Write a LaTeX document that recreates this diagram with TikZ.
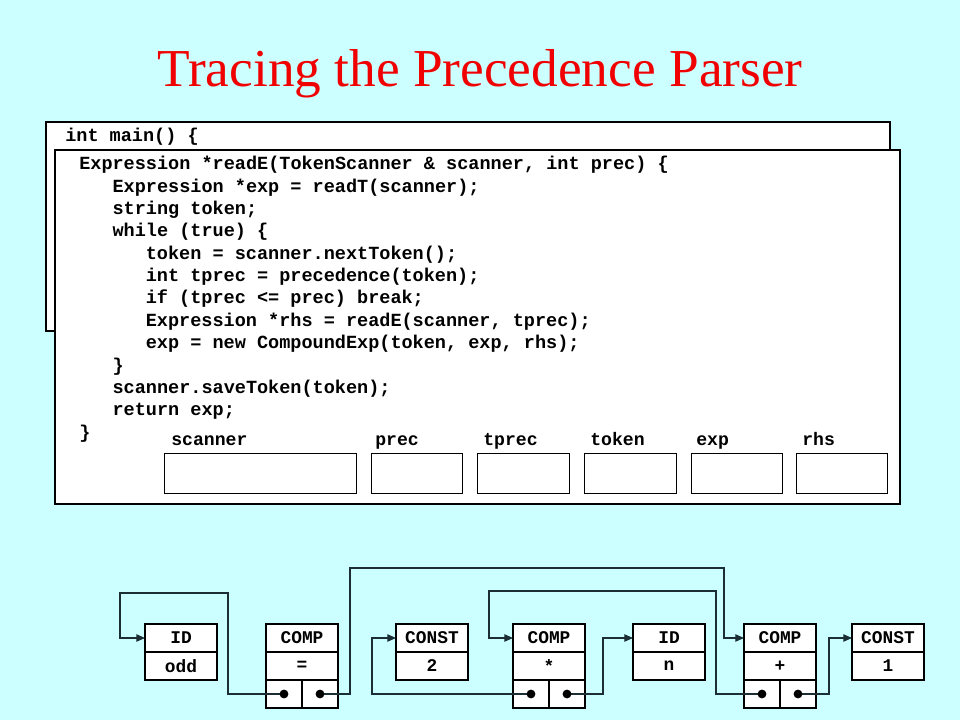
\documentclass[tikz,border=0pt]{standalone}
\usepackage{fontspec}
\setmainfont{Liberation Serif}
\setmonofont{Liberation Mono}
\usetikzlibrary{arrows.meta, positioning}
\definecolor{SlideBg}{HTML}{CCFFFF}
\definecolor{TitleRed}{HTML}{F00000}
\definecolor{LinkDark}{HTML}{1A2E33}

\begin{document}
\begin{tikzpicture}[x=0.75pt, y=-0.75pt,
    frame/.style={draw, fill=white, line width=1.6pt},
    code/.style={anchor=base west, inner sep=0pt, font=\ttfamily\bfseries\fontsize{13.9}{16}\selectfont},
    varname/.style={anchor=base west, inner sep=0pt, font=\ttfamily\bfseries\fontsize{13.6}{16}\selectfont},
    varbox/.style={draw, line width=0.8pt, fill=white, anchor=north west, minimum height=30pt, inner sep=0pt},
    field/.style={draw, line width=0.9pt, fill=white, minimum width=54pt, minimum height=21pt, inner sep=0pt, outer sep=0pt, font=\ttfamily\bfseries\fontsize{13.4}{16}\selectfont},
    cell/.style={draw, line width=0.9pt, fill=white, minimum width=27pt, minimum height=21pt, inner sep=0pt, outer sep=0pt},
    dot/.style={fill=black, circle, inner sep=0pt, minimum size=6.6pt},
    link/.style={LinkDark, line width=0.9pt, -{Triangle[length=6.5pt, width=5.5pt]}}]

    % Background
    \fill[SlideBg] (0,0) rectangle (960,720);
    \node[TitleRed, anchor=base, font=\fontsize{40}{46}\selectfont] (title) at (480,87) {Tracing the Precedence Parser};

    % Frames
    \draw[frame] (46,122) rectangle (890,331);
    \node[code] (main) at (65,142) {int main() \{};
    \draw[frame] (55,150) rectangle (900,504);

    % Code of readE
    \node[code] (l1) at (79,170) {Expression *readE(TokenScanner \& scanner, int prec) \{};
    \node[code] (l2) at (112.3,192.3) {Expression *exp = readT(scanner);};
    \node[code] (l3) at (112.3,214.7) {string token;};
    \node[code] (l4) at (112.3,237) {while (true) \{};
    \node[code] (l5) at (145.6,259.3) {token = scanner.nextToken();};
    \node[code] (l6) at (145.6,281.7) {int tprec = precedence(token);};
    \node[code] (l7) at (145.6,304) {if (tprec <= prec) break;};
    \node[code] (l8) at (145.6,326.3) {Expression *rhs = readE(scanner, tprec);};
    \node[code] (l9) at (145.6,348.7) {exp = new CompoundExp(token, exp, rhs);};
    \node[code] (l10) at (112.3,371) {\}};
    \node[code] (l11) at (112.3,393.3) {scanner.saveToken(token);};
    \node[code] (l12) at (112.3,415.7) {return exp;};
    \node[code] (l13) at (79,438) {\}};

    % Variables
    \node[varbox, minimum width=144pt] (scanner) at (164,453) {};
    \node[varbox, minimum width=68.5pt] (prec) at (371,453) {};
    \node[varbox, minimum width=69pt] (tprec) at (477,453) {};
    \node[varbox, minimum width=69pt] (token) at (584,453) {};
    \node[varbox, minimum width=68.5pt] (exp) at (691,453) {};
    \node[varbox, minimum width=68.5pt] (rhs) at (796,453) {};
    \node[varname] (scannerlbl) at (171,445) {scanner};
    \node[varname] (preclbl) at (375,445) {prec};
    \node[varname] (tpreclbl) at (483,445) {tprec};
    \node[varname] (tokenlbl) at (590,445) {token};
    \node[varname] (explbl) at (696,445) {exp};
    \node[varname] (rhslbl) at (802,445) {rhs};

    % Expression tree
    \node[field] (odd) at (181,638) {ID};
    \node[field, below=0pt of odd] (oddval) {odd};

    \node[field] (eq) at (302,638) {COMP};
    \node[field, below=0pt of eq] (eqval) {=};
    \node[cell, anchor=north west] (eqL) at (eqval.south west) {};
    \node[cell, anchor=north east] (eqR) at (eqval.south east) {};

    \node[field] (two) at (432,638) {CONST};
    \node[field, below=0pt of two] (twoval) {2};

    \node[field] (mul) at (549,638) {COMP};
    \node[field, below=0pt of mul] (mulval) {*};
    \node[cell, anchor=north west] (mulL) at (mulval.south west) {};
    \node[cell, anchor=north east] (mulR) at (mulval.south east) {};

    \node[field] (n) at (669,638) {ID};
    \node[field, below=0pt of n] (nval) {n};

    \node[field] (plus) at (780,638) {COMP};
    \node[field, below=0pt of plus] (plusval) {+};
    \node[cell, anchor=north west] (plusL) at (plusval.south west) {};
    \node[cell, anchor=north east] (plusR) at (plusval.south east) {};

    \node[field] (one) at (888,638) {CONST};
    \node[field, below=0pt of one] (oneval) {1};

    % Pointers
    \draw[link] (eqL.center) -| (228,593) -| (120,638) -- (odd.west);
    \draw[link] (eqR.center) -| (350,568) -| (724,638) -- (plus.west);
    \draw[link] (mulL.center) -| (372,638) -- (two.west);
    \draw[link] (mulR.center) -| (603,638) -- (n.west);
    \draw[link] (plusL.center) -| (716,591) -| (489,638) -- (mul.west);
    \draw[link] (plusR.center) -| (829,638) -- (one.west);
    \foreach \c in {eqL, eqR, mulL, mulR, plusL, plusR}
        \node[dot] (\c dot) at (\c.center) {};
\end{tikzpicture}
\end{document}
